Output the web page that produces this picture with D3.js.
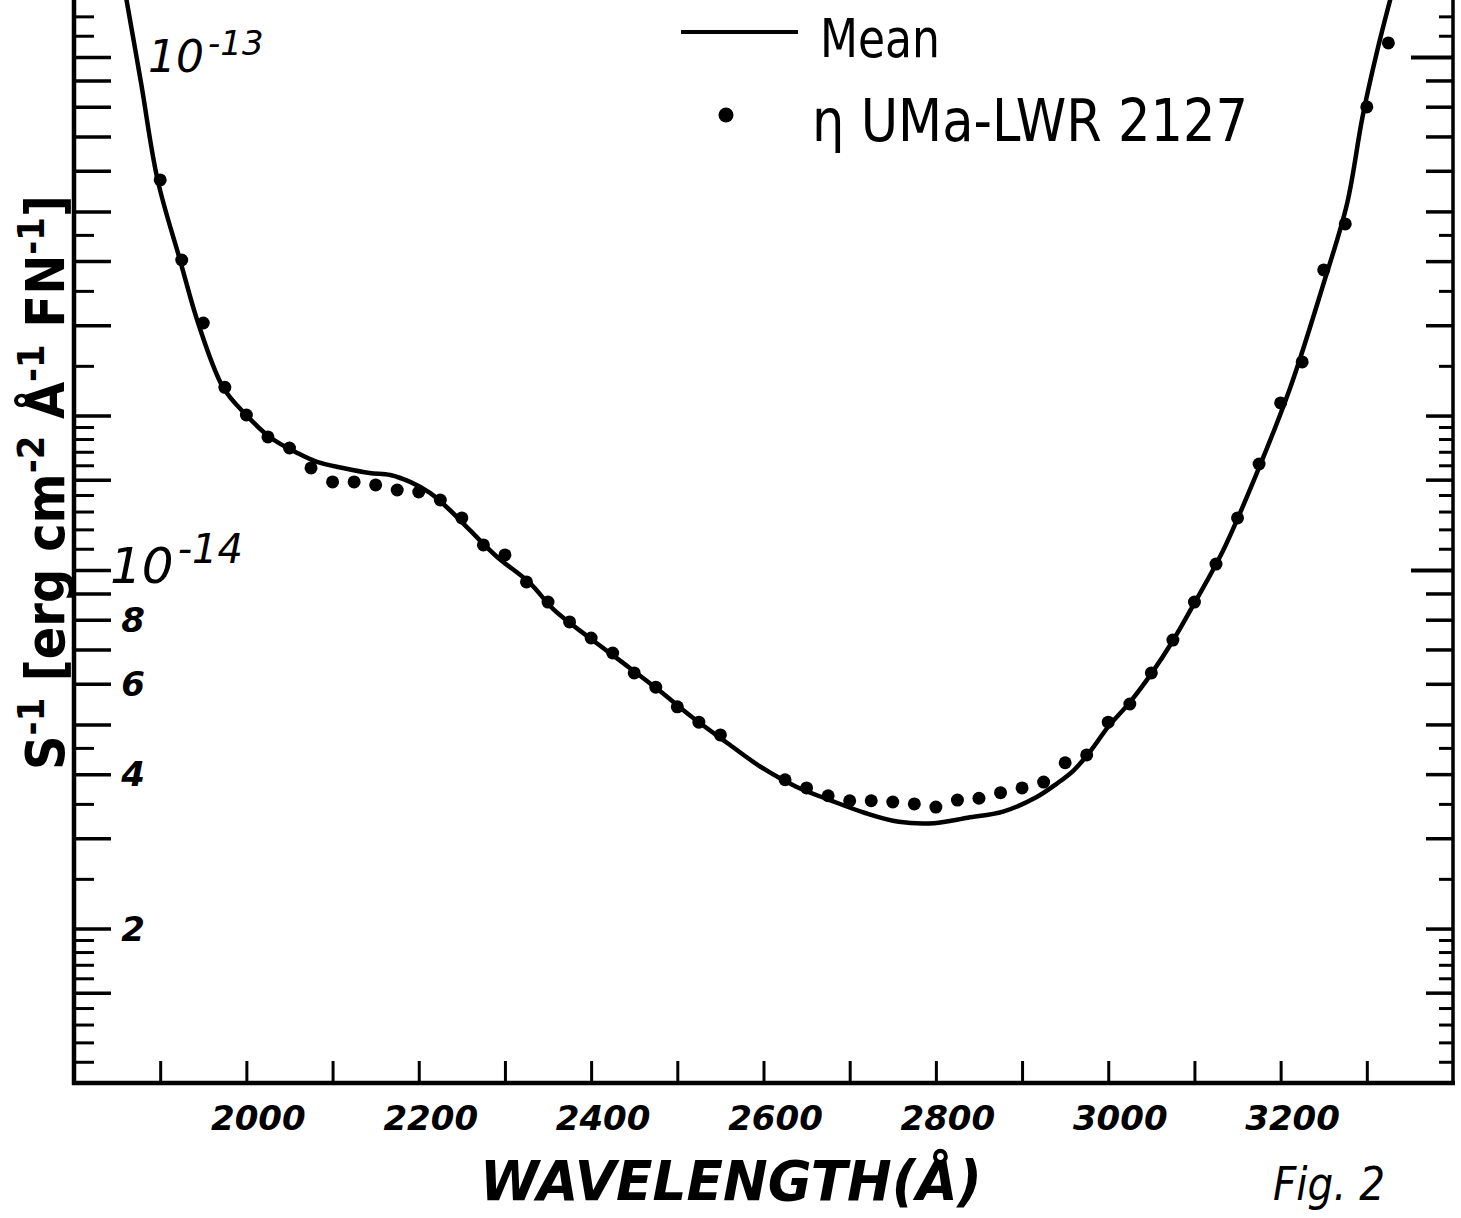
<!DOCTYPE html>
<html><head><meta charset="utf-8">
<script src="https://cdn.jsdelivr.net/npm/d3@7"></script>
<style>body{margin:0;background:#fff}svg{display:block}</style>
</head><body>
<svg id="chart" width="1461" height="1218"></svg>
<script>
// ---------- data (flux in units of 1e-14 erg cm^-2 s^-1 A^-1) ----------
const dotWavelengths = [1900,1925,1950,1975,2000,2025,2050,2075,2100,2125,2150,2175,2200,2225,2250,2275,2300,2325,2350,2375,2400,2425,2450,2475,2500,2525,2550,
  2625,2650,2675,2700,2725,2750,2775,2800,2825,2850,2875,2900,2925,2950,2975,3000,3025,3050,3075,3100,3125,3150,3175,3200,3225,3250,3275,3300,3325];
const dotFlux = [5.76,4.02,3.03,2.27,2.005,1.817,1.729,1.581,1.485,1.485,1.465,1.432,1.419,1.369,1.263,1.119,1.070,0.948,0.866,0.792,0.737,0.689,0.630,0.591,0.541,0.505,0.477,
  0.390,0.376,0.363,0.355,0.355,0.353,0.350,0.345,0.356,0.359,0.368,0.376,0.386,0.421,0.436,0.505,0.548,0.630,0.730,0.866,1.027,1.263,1.609,2.117,2.544,3.845,4.727,7.99,10.65];

const meanWavelengths = [1861,1878,1897,1923,1944,1973,1998,2027,2059,2082,2112,2143,2167,2190,2213,2236,2259,2291,2329,2357,2397,2437,2478,2517,2558,2597,2638,2677,2718,2757,2798,2837,2878,2917,2940,2960,2980,3000,3025,3050,3075,3100,3133,3172,3211,3249,3277,3295,3312,3327];
const meanFlux = [12.9,8.86,5.76,4.02,3.03,2.27,2.02,1.817,1.691,1.624,1.581,1.546,1.532,1.485,1.413,1.309,1.197,1.060,0.943,0.836,0.740,0.659,0.584,0.517,0.460,0.413,0.378,0.356,0.336,0.323,0.321,0.329,0.338,0.361,0.383,0.407,0.445,0.495,0.552,0.628,0.728,0.862,1.089,1.539,2.263,3.58,5.17,7.64,10.27,12.9];

const xTickValues = [1900,2000,2100,2200,2300,2400,2500,2600,2700,2800,2900,3000,3100,3200,3300];
const xLabelValues = [2000,2200,2400,2600,2800,3000,3200];
const xLabelTexts = ["2000","2200","2400","2600","2800","3000","3200"];

const yDecadeTicks = [1,10];
const yLongTicks = [0.15,0.2,0.3,0.4,0.5,0.6,0.7,0.8,0.9,1,1.5,2,3,4,5,6,7,8,9,10];
const yShortTicks = [0.11,0.12,0.13,0.14,0.16,0.17,0.18,0.19,0.25,0.35,0.45,1.1,1.2,1.3,1.4,1.6,1.7,1.8,1.9,2.5,3.5,4.5,11,12];
const yPowerLabelValues = [10,1];
const yPowerLabelExps = ["-13","-14"];
const yDigitLabelValues = [0.8,0.6,0.4,0.2];
const yDigitLabelTexts = ["8","6","4","2"];

const legendLabels = ["Mean","\u03B7 UMa-LWR 2127"];
const xTitle = "WAVELENGTH(\u00C5)";
const figLabel = "Fig. 2";

// ---------- layout ----------
const L = 74, R = 1453, B = 1083, T = 0;
const svg = d3.select("#chart");
const x = d3.scaleLinear().domain([1800,3400]).range([L,R]);
const y = d3.scaleLog().domain([0.1, 12.914]).range([B,T]);

svg.append("defs").append("clipPath").attr("id","plot")
  .append("rect").attr("x",L).attr("y",T).attr("width",R-L).attr("height",B-T);

function styleAxis(g, w){
  g.select(".domain").remove();
  g.selectAll(".tick line").attr("stroke","#000").attr("stroke-width",w);
  g.selectAll(".tick text").remove();
}

// left axis
svg.append("line").attr("x1",L).attr("x2",L).attr("y1",T).attr("y2",B+2).attr("stroke","#000").attr("stroke-width",4.5);
svg.append("g").attr("transform",`translate(${L},0)`)
  .call(d3.axisRight(y).tickValues(yLongTicks).tickSize(37).tickFormat(""))
  .call(g=>styleAxis(g,3.5));
svg.append("g").attr("transform",`translate(${L},0)`)
  .call(d3.axisRight(y).tickValues(yShortTicks).tickSize(20).tickFormat(""))
  .call(g=>styleAxis(g,3));

// right axis
svg.append("line").attr("x1",R).attr("x2",R).attr("y1",T).attr("y2",B+2).attr("stroke","#000").attr("stroke-width",3.5);
svg.append("g").attr("transform",`translate(${R},0)`)
  .call(d3.axisLeft(y).tickValues(yLongTicks.filter(v=>!yDecadeTicks.includes(v))).tickSize(27).tickFormat(""))
  .call(g=>styleAxis(g,3.5));
svg.append("g").attr("transform",`translate(${R},0)`)
  .call(d3.axisLeft(y).tickValues(yDecadeTicks).tickSize(42).tickFormat(""))
  .call(g=>styleAxis(g,4));
svg.append("g").attr("transform",`translate(${R},0)`)
  .call(d3.axisLeft(y).tickValues(yShortTicks).tickSize(14).tickFormat(""))
  .call(g=>styleAxis(g,3));

// bottom axis
svg.append("line").attr("x1",L-2).attr("x2",R+2).attr("y1",B).attr("y2",B).attr("stroke","#000").attr("stroke-width",4.5);
svg.append("g").attr("transform",`translate(0,${B})`)
  .call(d3.axisTop(x).tickValues(xTickValues).tickSize(22).tickFormat(""))
  .call(g=>styleAxis(g,3));

// x tick labels
svg.append("g").selectAll("text").data(xLabelValues).join("text")
  .attr("x",d=>x(d)+12).attr("y",B+47)
  .attr("text-anchor","middle")
  .attr("font-family","DejaVu Sans").attr("font-weight","bold").attr("font-style","italic")
  .attr("font-size",34)
  .text((d,i)=>xLabelTexts[i]);

// y labels: powers of ten
const pw = svg.append("g");
yPowerLabelValues.forEach((v,i)=>{
  const t = pw.append("text")
    .attr("x", i===0 ? 148 : 110).attr("y", y(v)+(i===0?15:13))
    .attr("font-family","DejaVu Sans").attr("font-style","italic")
    .attr("font-size", i===0 ? 44 : 50);
  t.append("tspan").text("10");
  t.append("tspan").attr("dy", i===0?-17:-20).attr("dx",4).attr("font-size", i===0?34:40).text(yPowerLabelExps[i]);
});
svg.append("g").selectAll("text").data(yDigitLabelValues).join("text")
  .attr("x",133).attr("y",d=>y(d)+12)
  .attr("text-anchor","middle")
  .attr("font-family","DejaVu Sans").attr("font-weight","bold").attr("font-style","italic")
  .attr("font-size",34)
  .text((d,i)=>yDigitLabelTexts[i]);

// y axis title
const yt = svg.append("text")
  .attr("font-family","DejaVu Sans Condensed, DejaVu Sans").attr("font-weight","bold")
  .attr("font-size",54).attr("text-anchor","start");
const parts = [["S",0],["-1",1],[" [erg cm",0],["-2",1],[" \u00C5",0],["-1",1],[" FN",0],["-1",1],["]",0]];
let prevSup = 0;
parts.forEach(([s,sup])=>{
  const ts = yt.append("tspan").text(s);
  if(sup){ ts.attr("font-size",38).attr("dy",-20); }
  else if(prevSup){ ts.attr("dy",20); }
  prevSup = sup;
});
const ytw = yt.node().getComputedTextLength();
yt.attr("transform",`translate(64,${770}) rotate(-90) scale(${575/ytw},1)`);

// mean curve
const line = d3.line().x((d,i)=>x(meanWavelengths[i])).y(d=>y(d)).curve(d3.curveCatmullRom.alpha(0.5));
svg.append("path").datum(meanFlux).attr("clip-path","url(#plot)")
  .attr("d",line).attr("fill","none").attr("stroke","#000").attr("stroke-width",4.5)
  .attr("stroke-linejoin","round").attr("stroke-linecap","round");

// dots
svg.append("g").selectAll("circle").data(dotFlux).join("circle")
  .attr("cx",(d,i)=>x(dotWavelengths[i])).attr("cy",d=>y(d)).attr("r",6.5).attr("fill","#000");

// legend
const lg = svg.append("g");
lg.append("line").attr("x1",681).attr("x2",798).attr("y1",32).attr("y2",32).attr("stroke","#000").attr("stroke-width",4);
lg.append("text").attr("x",820).attr("y",57).attr("font-family","DejaVu Sans").attr("font-size",54)
  .attr("textLength",120).attr("lengthAdjust","spacingAndGlyphs").text(legendLabels[0]);
lg.append("circle").attr("cx",726).attr("cy",115).attr("r",7.5).attr("fill","#000");
lg.append("text").attr("x",812).attr("y",141).attr("font-family","DejaVu Sans").attr("font-size",58)
  .attr("textLength",436).attr("lengthAdjust","spacingAndGlyphs").text(legendLabels[1]);

// x title and figure label
svg.append("text").attr("x",480).attr("y",1200).attr("font-family","DejaVu Sans").attr("font-weight","bold").attr("font-style","italic")
  .attr("font-size",56).attr("textLength",502).attr("lengthAdjust","spacingAndGlyphs").text(xTitle);
svg.append("text").attr("x",1273).attr("y",1200).attr("font-family","DejaVu Sans").attr("font-style","italic")
  .attr("font-size",46).attr("textLength",112).attr("lengthAdjust","spacingAndGlyphs").text(figLabel);
</script>
</body></html>
